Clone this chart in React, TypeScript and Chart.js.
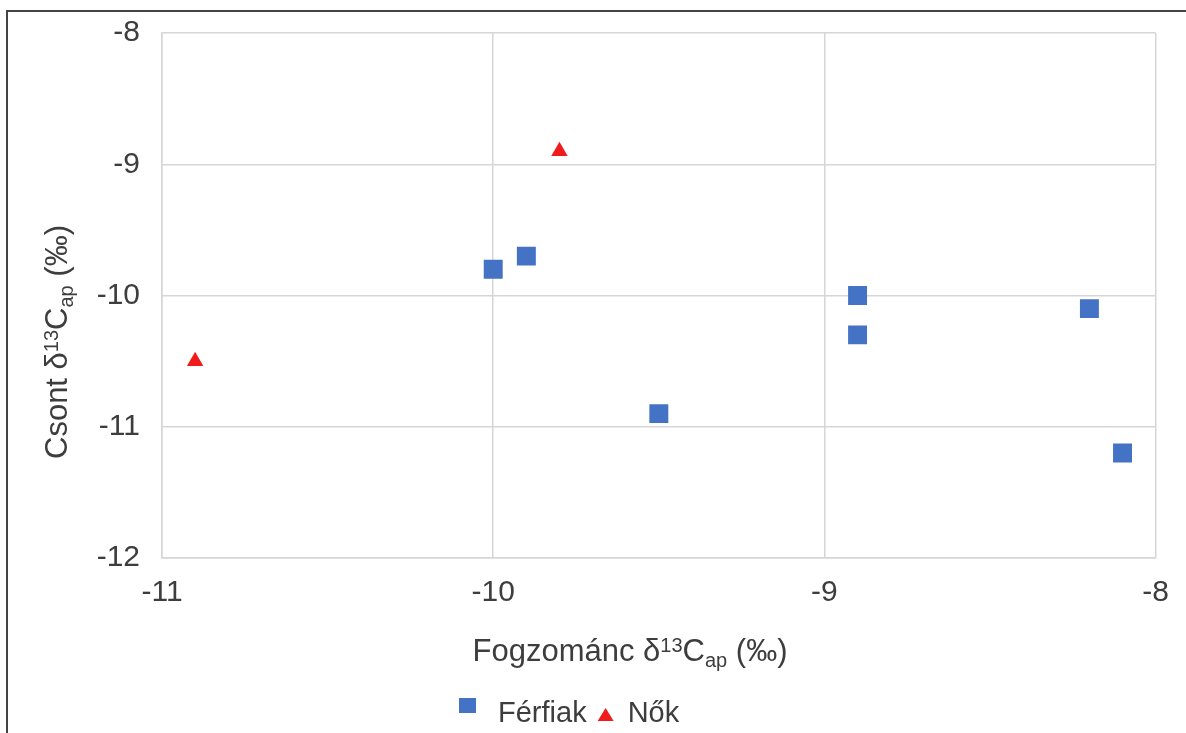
import React, { useEffect, useRef } from "react";
import { Chart, registerables } from "chart.js";

Chart.register(...registerables);

// ---- data ----
const seriesNames = ["Férfiak", "Nők"];
const menX = [-10.0, -9.9, -9.5, -8.9, -8.9, -8.2, -8.1];
const menY = [-9.8, -9.7, -10.9, -10.0, -10.3, -10.1, -11.2];
const womenX = [-10.9, -9.8];
const womenY = [-10.5, -8.9];
const xTickValues = [-11, -10, -9, -8];
const yTickValues = [-12, -11, -10, -9, -8];

type Run = { t: string; k: "n" | "sup" | "sub" };
const xTitleRuns: Run[] = [
  { t: "Fogzománc δ", k: "n" },
  { t: "13", k: "sup" },
  { t: "C", k: "n" },
  { t: "ap", k: "sub" },
  { t: " (‰)", k: "n" },
];
const yTitleRuns: Run[] = [
  { t: "Csont δ", k: "n" },
  { t: "13", k: "sup" },
  { t: "C", k: "n" },
  { t: "ap", k: "sub" },
  { t: " (‰)", k: "n" },
];

// ---- style / layout ----
const W = 1186;
const H = 733;
const FONT = "'Liberation Sans', Arial, Helvetica, sans-serif";
const TEXT = "#3d3d3d";
const GRID = "#d6d6d6";
const BLUE = "#4472C4";
const RED = "#F01C1C";
const TICK_SIZE = 30;
const TITLE_SIZE = 31;
const LEGEND_SIZE = 29;
const AREA_LEFT = 162;
const AREA_RIGHT = 1157;
const AREA_TOP = 33;
const AREA_BOTTOM = 558;
const X_TITLE_CX = 630;
const X_TITLE_BASE = 661;
const Y_TITLE_BASE_X = 67;
const Y_TITLE_CY = 342;
const LEGEND_LEFT = 459;
const LEGEND_BASE = 722;

function drawRuns(ctx: CanvasRenderingContext2D, runs: Run[], cx: number, baseY: number, size: number) {
  const small = Math.round(size * 0.66);
  const fontFor = (k: string) => `${k === "n" ? size : small}px ${FONT}`;
  let total = 0;
  for (const r of runs) {
    ctx.font = fontFor(r.k);
    total += ctx.measureText(r.t).width;
  }
  let x = cx - total / 2;
  ctx.textAlign = "left";
  ctx.textBaseline = "alphabetic";
  for (const r of runs) {
    ctx.font = fontFor(r.k);
    const dy = r.k === "sup" ? -size * 0.3 : r.k === "sub" ? size * 0.2 : 0;
    ctx.fillText(r.t, x, baseY + dy);
    x += ctx.measureText(r.t).width;
  }
}

const decorPlugin = {
  id: "decor",
  afterDraw(chart: any) {
    const ctx: CanvasRenderingContext2D = chart.ctx;
    ctx.save();
    ctx.fillStyle = TEXT;
    drawRuns(ctx, xTitleRuns, X_TITLE_CX, X_TITLE_BASE, TITLE_SIZE);
    ctx.save();
    ctx.translate(Y_TITLE_BASE_X, Y_TITLE_CY);
    ctx.rotate(-Math.PI / 2);
    drawRuns(ctx, yTitleRuns, 0, 0, TITLE_SIZE);
    ctx.restore();

    // legend
    let x = LEGEND_LEFT;
    chart.data.datasets.forEach((ds: any) => {
      ctx.fillStyle = ds.backgroundColor;
      if (ds.pointStyle === "rect") {
        ctx.fillRect(x, LEGEND_BASE - 24, 17, 15);
        x += 17 + 22;
      } else {
        ctx.beginPath();
        ctx.moveTo(x + 8, LEGEND_BASE - 14);
        ctx.lineTo(x + 16, LEGEND_BASE - 1);
        ctx.lineTo(x, LEGEND_BASE - 1);
        ctx.closePath();
        ctx.fill();
        x += 16 + 14;
      }
      ctx.fillStyle = TEXT;
      ctx.font = `${LEGEND_SIZE}px ${FONT}`;
      ctx.textAlign = "left";
      ctx.textBaseline = "alphabetic";
      ctx.fillText(ds.label, x, LEGEND_BASE);
      x += ctx.measureText(ds.label).width + 11;
    });
    ctx.restore();
  },
};

export default function App() {
  const ref = useRef<HTMLCanvasElement | null>(null);

  useEffect(() => {
    if (!ref.current) return;
    const chart = new Chart(ref.current, {
      type: "scatter",
      data: {
        datasets: [
          {
            label: seriesNames[0],
            data: menX.map((x, i) => ({ x, y: menY[i] })),
            backgroundColor: BLUE,
            borderColor: BLUE,
            borderWidth: 0,
            pointStyle: "rect",
            pointRadius: 13.4,
            pointHoverRadius: 13.4,
          },
          {
            label: seriesNames[1],
            data: womenX.map((x, i) => ({ x, y: womenY[i] })),
            backgroundColor: RED,
            borderColor: RED,
            borderWidth: 0,
            pointStyle: "triangle",
            pointRadius: 9.5,
            pointHoverRadius: 9.5,
          },
        ],
      },
      options: {
        responsive: false,
        animation: false,
        events: [],
        layout: { padding: { left: 0, top: AREA_TOP, right: W - AREA_RIGHT, bottom: 0 } },
        plugins: {
          legend: { display: false },
          tooltip: { enabled: false },
          title: { display: false },
        },
        scales: {
          x: {
            type: "linear",
            min: -11,
            max: -8,
            afterBuildTicks: (s: any) => {
              s.ticks = xTickValues.map((v) => ({ value: v }));
            },
            afterFit: (s: any) => {
              s.height = H - AREA_BOTTOM;
            },
            ticks: {
              color: TEXT,
              font: { family: FONT, size: TICK_SIZE },
              padding: 17,
              maxRotation: 0,
            },
            grid: { color: GRID, lineWidth: 1.5, drawTicks: false },
            border: { color: GRID, width: 1.5 },
          },
          y: {
            type: "linear",
            min: -12,
            max: -8,
            afterBuildTicks: (s: any) => {
              s.ticks = yTickValues.map((v) => ({ value: v }));
            },
            afterFit: (s: any) => {
              s.width = AREA_LEFT;
              s.paddingTop = 0;
              s.paddingBottom = 0;
            },
            ticks: {
              color: TEXT,
              font: { family: FONT, size: TICK_SIZE },
              padding: 22,
            },
            grid: { color: GRID, lineWidth: 1.5, drawTicks: false },
            border: { color: GRID, width: 1.5 },
          },
        },
      },
      plugins: [decorPlugin],
    } as any);
    return () => chart.destroy();
  }, []);

  return (
    <div
      style={{
        position: "fixed",
        left: 0,
        top: 0,
        width: W,
        height: H,
        overflow: "hidden",
        background: "#ffffff",
      }}
    >
      <canvas ref={ref} width={W} height={H} style={{ position: "absolute", left: 0, top: 0, width: W, height: H }} />
      <div
        style={{
          position: "absolute",
          left: 6,
          top: 10,
          width: W + 20,
          height: H + 20,
          borderLeft: "2px solid #444",
          borderTop: "2px solid #444",
          pointerEvents: "none",
        }}
      />
    </div>
  );
}
